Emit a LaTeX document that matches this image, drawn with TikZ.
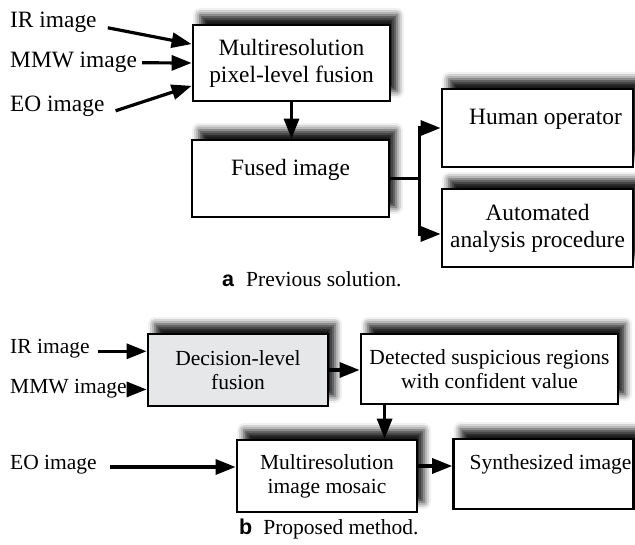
\documentclass[tikz,border=0pt]{standalone}
\usepackage{fontspec}
\setmainfont{Liberation Serif}
\setsansfont{Liberation Sans}
\usetikzlibrary{arrows.meta,shadows.blur,calc}
\definecolor{decgray}{RGB}{230,231,233}
\begin{document}
\begin{tikzpicture}[x=1pt,y=-1pt,
  box/.style={draw=black, line width=2.8pt, fill=white, inner sep=2pt, align=center,
    blur shadow={shadow xshift=7pt, shadow yshift=10pt, shadow blur radius=7pt, shadow opacity=90}},
  bigtxt/.style={font=\fontsize{23.4}{27}\selectfont},
  smalltxt/.style={font=\fontsize{21.5}{24}\selectfont},
  lbl/.style={anchor=base west, inner sep=0pt},
  raised/.style={text depth=23pt},
  arr/.style={line width=3.2pt, -{Triangle[length=20pt,width=15pt]}},
  ln/.style={line width=3.2pt}]
\useasboundingbox (0,0) rectangle (635,545);

% ---------- (a) ----------
\node[box,bigtxt,minimum width=197pt,minimum height=76pt] (fusion) at (291.5,63) {Multiresolution\\pixel-level fusion};
\node[box,bigtxt,raised,minimum width=197pt,minimum height=77pt] (fused) at (290.5,178.5) {Fused image};
\node[box,bigtxt,raised,minimum width=191pt,minimum height=78pt] (human) at (537.5,128) {\hspace*{16pt}Human operator};
\node[box,bigtxt,minimum width=191pt,minimum height=78pt] (auto) at (537.5,228) {Automated\\analysis procedure};

\node[lbl,bigtxt] (ira) at (10,28) {IR image};
\node[lbl,bigtxt] (mmwa) at (10,68) {MMW image};
\node[lbl,bigtxt] (eoa) at (10,112) {EO image};

\draw[arr] ([shift={(11,5)}]ira.east) -- ($(fusion.north west)!0.26!(fusion.south west)$);
\draw[arr] ([shift={(5,0)}]mmwa.east) -- (fusion.west);
\draw[arr] ([shift={(11,4)}]eoa.east) -- ($(fusion.north west)!0.79!(fusion.south west)$);
\draw[arr] (fusion.south) -- (fusion.south |- fused.north);
\coordinate (autoin) at ([shift={(0,6)}]auto.west);
\coordinate (branch) at ($(fused.east)+(29,0)$);
\draw[ln] (fused.east) -- (branch);
\draw[arr] (branch) |- (human.west);
\draw[arr] (branch) |- (autoin);

\node[lbl,font=\fontsize{21.5}{24}\selectfont] (capa) at (222,287) {{\sffamily\bfseries a}\hspace{12pt}Previous solution.};

% ---------- (b) ----------
\node[box,smalltxt,fill=decgray,minimum width=180pt,minimum height=72pt] (dec) at (238,370) {Decision-level\\fusion};
\node[box,smalltxt,minimum width=257pt,minimum height=70pt] (det) at (489.5,369) {Detected suspicious regions\\with confident value};
\node[box,smalltxt,minimum width=180pt,minimum height=72pt] (mosaic) at (327,476) {Multiresolution\\image mosaic};
\node[box,smalltxt,raised,minimum width=177pt,minimum height=70pt] (syn) at (543.5,474) {\hspace*{14pt}Synthesized image};

\node[lbl,smalltxt] (irb) at (10,354) {IR image};
\node[lbl,smalltxt] (mmwb) at (10,394) {MMW image};
\node[lbl,smalltxt] (eob) at (10,469) {EO image};

\coordinate (irin) at ($(dec.north west)!0.25!(dec.south west)$);
\coordinate (mmwin) at ($(dec.north west)!0.76!(dec.south west)$);
\coordinate (eoin) at ([shift={(0,-9)}]mosaic.west);
\coordinate (synin) at ([shift={(0,-8)}]syn.west);
\coordinate (detout) at ($(det.south west)+(25,0)$);

\draw[arr] ($(irb.east |- irin)+(8,0)$) -- (irin);
\draw[arr] ($(mmwb.east |- mmwin)+(1,0)$) -- (mmwin);
\draw[arr] ($(eob.east |- eoin)+(13,0)$) -- (eoin);
\draw[arr] (dec.east) -- (dec.east -| det.west);
\draw[arr] (detout) -- (detout |- mosaic.north);
\draw[arr] (mosaic.east |- synin) -- (synin);

\node[lbl,font=\fontsize{21.5}{24}\selectfont] (capb) at (239,534) {{\sffamily\bfseries b}\hspace{11pt}Proposed method.};
\end{tikzpicture}
\end{document}
